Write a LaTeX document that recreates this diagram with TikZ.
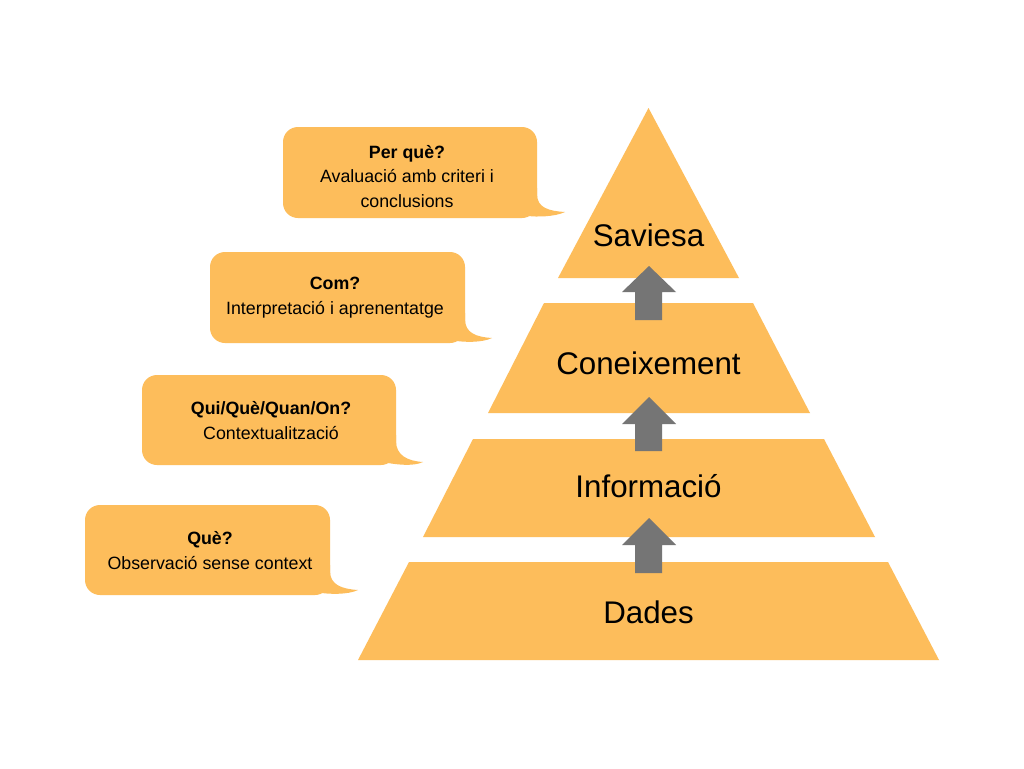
\documentclass[tikz,border=0pt]{standalone}
\usepackage{fontspec}
\setmainfont{Liberation Sans}
\definecolor{layer}{HTML}{FDBD5B}
\definecolor{arrowgray}{HTML}{757575}
\tikzset{
  layerfill/.style={fill=layer},
  bubblefill/.style={fill=layer},
  uparrow/.style={fill=arrowgray},
  layerlabel/.style={font=\fontsize{31.3}{36}\selectfont, text=black, inner sep=0pt},
  bubbletext/.style={font=\fontsize{17.8}{24.5}\selectfont, align=center, text=black, inner sep=0pt},
}
\newcommand{\mybubble}[6]{%
  % #1 left, #2 top, #3 right, #4 bottom, #5 tip x, #6 tip y
  \fill[bubblefill, rounded corners=15pt] (#1,#2) rectangle (#3,#4);
  \fill[bubblefill] (#3,#4-30) -- (#3,#4-24) .. controls (#3,#4-10) and (#5-16,#6-1) .. (#5,#6)
     .. controls (#5-10,#6+5) and (#3-2,#4-1) .. (#3-8,#4-2) -- (#3-8,#4-30) -- cycle;
}
\newcommand{\myuparrow}[3]{%
  % #1 tip y, #2 head base y, #3 bottom y
  \fill[uparrow] (649,#1) -- (676,#2) -- (662,#2) -- (662,#3) -- (635,#3) -- (635,#2) -- (622,#2) -- cycle;
}
\begin{document}
\begin{tikzpicture}[x=1pt,y=-1pt]
\useasboundingbox (0,0) rectangle (1024,768);
\fill[white] (0,0) rectangle (1024,768);

% pyramid layers
\fill[layerfill] (648.5,108) -- (739,278) -- (558,278) -- cycle;
\fill[layerfill] (544,303) -- (753,303) -- (810,413) -- (488,413) -- cycle;
\fill[layerfill] (473,439) -- (824,439) -- (875,537) -- (423,537) -- cycle;
\fill[layerfill] (409,562) -- (888,562) -- (939,660) -- (358,660) -- cycle;

\node[layerlabel] (saviesa) at (648.5,235) {Saviesa};
\node[layerlabel] (coneixement) at (648.5,363) {Coneixement};
\node[layerlabel] (informacio) at (648.5,486) {Informació};
\node[layerlabel] (dades) at (648.5,612) {Dades};

% arrows
\myuparrow{266}{292}{320}
\myuparrow{397}{424}{451}
\myuparrow{518}{545}{573}

% speech bubbles
\mybubble{283}{127}{537}{218}{565}{212}
\node[bubbletext] (b1) at (407,176.5) {\textbf{Per què?}\\Avaluació amb criteri i\\conclusions};

\mybubble{210}{252}{465}{343}{492}{338}
\node[bubbletext] (b2) at (335,297.5) {\textbf{Com?}\\Interpretació i aprenentatge};

\mybubble{142}{375}{396}{465}{423}{462}
\node[bubbletext] (b3) at (271,420.5) {\textbf{Qui/Què/Quan/On?}\\Contextualització};

\mybubble{85}{505}{330}{595}{358}{590}
\node[bubbletext] (b4) at (210,550.5) {\textbf{Què?}\\Observació sense context};
\end{tikzpicture}
\end{document}
